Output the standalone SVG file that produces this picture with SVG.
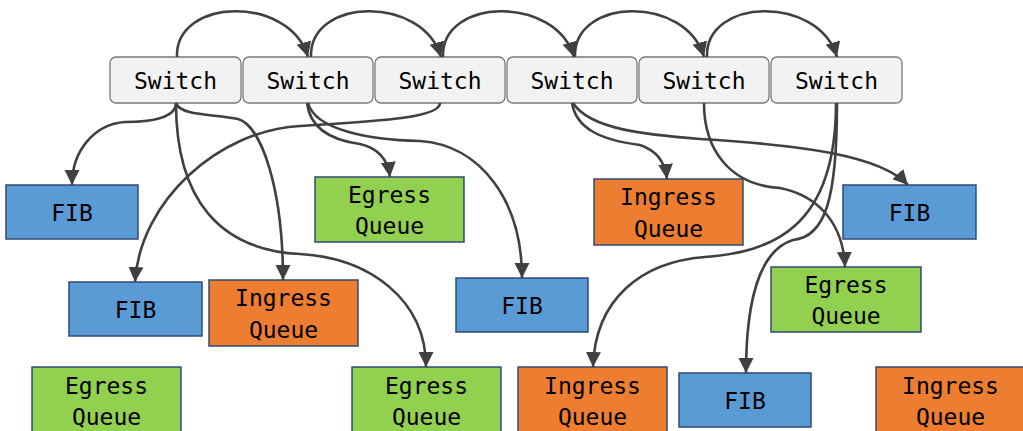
<svg xmlns="http://www.w3.org/2000/svg" width="1023" height="431" viewBox="0 0 1023 431">
<style>
.sw{fill:#f2f2f2;stroke:#7a7a7a;stroke-width:1.3}
.fib{fill:#5b9bd5;stroke:#2f4b73;stroke-width:1.5}
.eg{fill:#92d050;stroke:#2f4b73;stroke-width:1.5}
.ing{fill:#ed7d31;stroke:#2f4b73;stroke-width:1.5}
text{font-family:"DejaVu Sans Mono","Liberation Mono",monospace;font-size:23px;fill:#000;text-anchor:middle}
.c path{fill:none;stroke:#404040;stroke-width:2.6;marker-end:url(#ah)}
</style>
<defs>
<marker id="ah" markerUnits="userSpaceOnUse" markerWidth="16" markerHeight="16" refX="15" refY="7.5" orient="auto">
<path d="M0,0 L15,7.5 L0,15 z" fill="#404040"/>
</marker>
</defs>
<rect width="1023" height="431" fill="#fff"/>
<g id="sw1"><rect class="sw" x="110" y="57" width="131" height="46" rx="6"/><text x="175.5" y="89">Switch</text></g>
<g id="sw2"><rect class="sw" x="243" y="57" width="130" height="46" rx="6"/><text x="308" y="89">Switch</text></g>
<g id="sw3"><rect class="sw" x="375" y="57" width="130" height="46" rx="6"/><text x="440" y="89">Switch</text></g>
<g id="sw4"><rect class="sw" x="507" y="57" width="130" height="46" rx="6"/><text x="572" y="89">Switch</text></g>
<g id="sw5"><rect class="sw" x="639" y="57" width="130" height="46" rx="6"/><text x="704" y="89">Switch</text></g>
<g id="sw6"><rect class="sw" x="771" y="57" width="131" height="46" rx="6"/><text x="836.5" y="89">Switch</text></g>

<g id="fib1"><rect class="fib" x="6" y="185" width="132" height="54"/><text x="72" y="220.5">FIB</text></g>
<g id="fib2"><rect class="fib" x="69" y="282" width="133" height="54"/><text x="135.5" y="317.5">FIB</text></g>
<g id="ing1"><rect class="ing" x="209" y="280" width="149" height="66"/><text x="283.5" y="306">Ingress</text><text x="283.5" y="337.5">Queue</text></g>
<g id="eg1"><rect class="eg" x="315" y="177" width="149" height="65"/><text x="389.5" y="202.5">Egress</text><text x="389.5" y="234">Queue</text></g>
<g id="fib3"><rect class="fib" x="456" y="278" width="132" height="54"/><text x="522" y="313.5">FIB</text></g>
<g id="ing2"><rect class="ing" x="594" y="179" width="149" height="66"/><text x="668.5" y="205">Ingress</text><text x="668.5" y="236.5">Queue</text></g>
<g id="fib4"><rect class="fib" x="843" y="185" width="133" height="54"/><text x="909.5" y="220.5">FIB</text></g>
<g id="eg2"><rect class="eg" x="771" y="267" width="150" height="65"/><text x="846" y="292.5">Egress</text><text x="846" y="324">Queue</text></g>
<g id="eg3"><rect class="eg" x="32" y="367" width="149" height="66"/><text x="106.5" y="393.5">Egress</text><text x="106.5" y="425">Queue</text></g>
<g id="eg4"><rect class="eg" x="352" y="367" width="149" height="66"/><text x="426.5" y="393.5">Egress</text><text x="426.5" y="425">Queue</text></g>
<g id="ing3"><rect class="ing" x="518" y="367" width="149" height="66"/><text x="592.5" y="393.5">Ingress</text><text x="592.5" y="425">Queue</text></g>
<g id="fib5"><rect class="fib" x="679" y="373" width="132" height="54"/><text x="745" y="408.5">FIB</text></g>
<g id="ing4"><rect class="ing" x="876" y="367" width="149" height="66"/><text x="950.5" y="393.5">Ingress</text><text x="950.5" y="425">Queue</text></g>

<g id="connectors" class="c">
<path d="M177,57 C175,-3 290,-5 308,57"/>
<path d="M311,57 C309,-3 423,-5 441,57"/>
<path d="M443,57 C441,-3 556,-5 574,57"/>
<path d="M575,57 C573,-3 686,-5 704,57"/>
<path d="M707,57 C705,-3 819,-5 837,57"/>

<path d="M176,103 C176,118 150,122 125,122 C95,124 72,150 72,185"/>
<path d="M176,103 C180,116 215,114 238,119 C262,126 283,190 283,280"/>
<path d="M176,103 C176,200 220,250 300,254 C370,258 426,300 426,367"/>
<path d="M307,103 C310,128 330,140 360,144 C378,148 388,160 390,177"/>
<path d="M308,103 C315,130 370,140 420,141 C480,145 522,200 522,278"/>
<path d="M440,103 C440,118 380,121 300,126 C220,130 140,200 135,282"/>
<path d="M572,103 C576,128 600,140 640,145 C655,150 665,160 667,179"/>
<path d="M573,103 C590,130 650,135 700,139 C800,145 880,155 908,185"/>
<path d="M704,103 C704,150 730,185 780,188 C815,195 843,220 845,267"/>
<path d="M836,103 C836,230 770,252 705,257 C640,262 595,300 593,367"/>
<path d="M837,103 C837,200 825,237 793,240 C760,250 746,300 746,373"/>
</g>
</svg>
